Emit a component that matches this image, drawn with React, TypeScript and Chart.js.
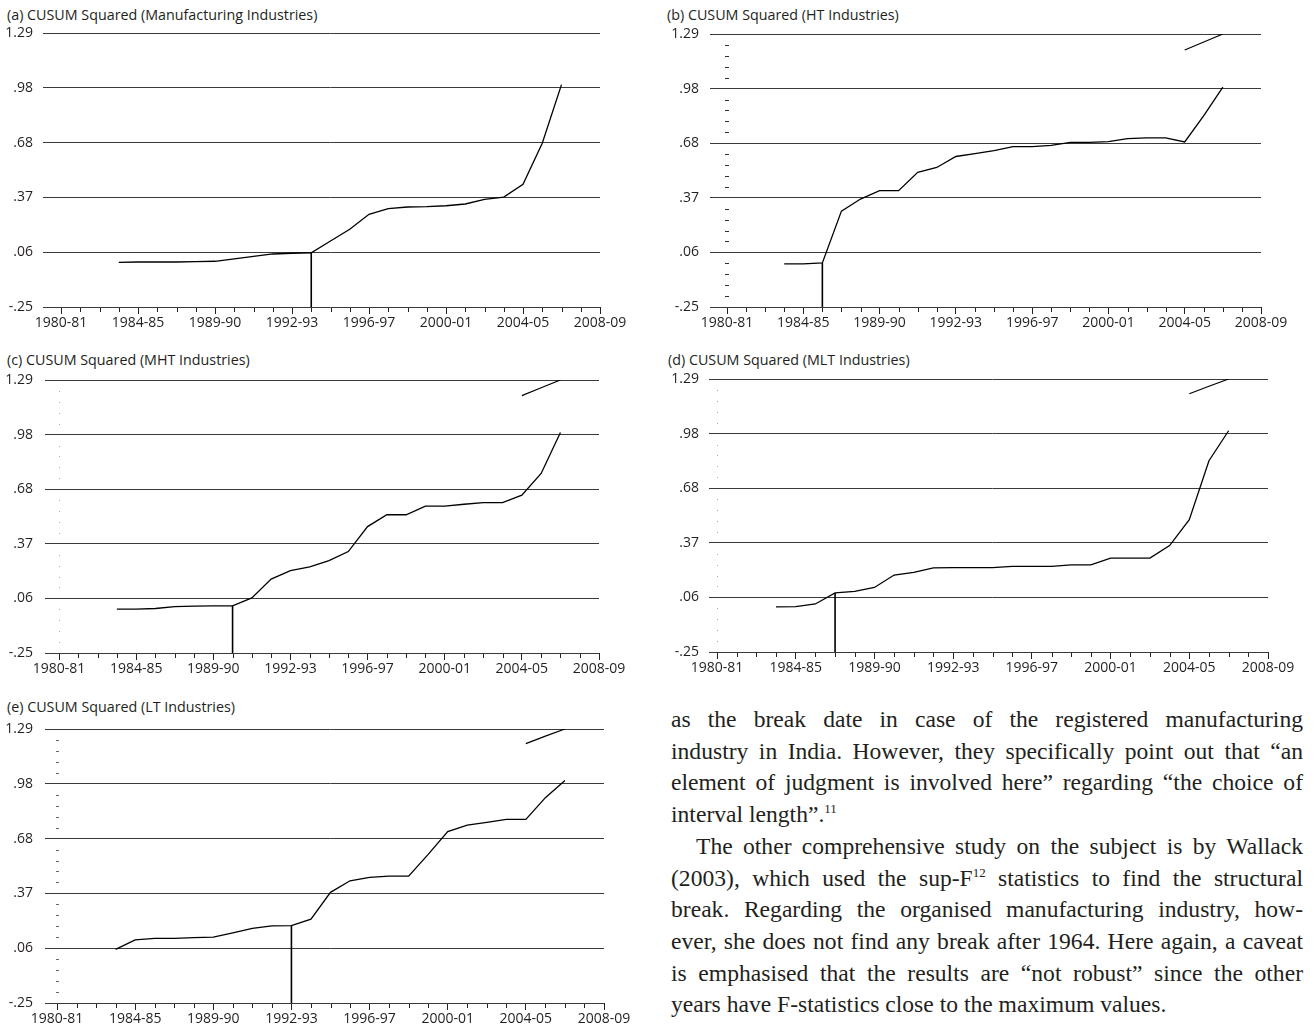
import React, { useEffect, useRef } from 'react';
import { Chart, registerables } from 'chart.js';

Chart.register(...registerables);

// ---------- data ----------
const years = [
  '1980-81', '1981-82', '1982-83', '1983-84', '1984-85', '1985-86', '1986-87', '1987-88',
  '1988-89', '1989-90', '1990-91', '1991-92', '1992-93', '1993-94', '1994-95', '1995-96',
  '1996-97', '1997-98', '1998-99', '1999-00', '2000-01', '2001-02', '2002-03', '2003-04',
  '2004-05', '2005-06', '2006-07', '2007-08', '2008-09',
];
const xTickLabels = ['1980-81', '1984-85', '1989-90', '1992-93', '1996-97', '2000-01', '2004-05', '2008-09'];
const xLabelEvery = 4;
const yTickValues = [-0.25, 0.058, 0.366, 0.674, 0.982, 1.29];
const yTickLabels = ['-.25', '.06', '.37', '.68', '.98', '1.29'];
const seriesStartYear = '1983-84';
const boundYears = ['2004-05', '2005-06', '2006-07'];

const manufacturingValues = [
  0.001, 0.003, 0.003, 0.003, 0.005, 0.007, 0.02, 0.034, 0.048, 0.052, 0.055, 0.121,
  0.187, 0.271, 0.303, 0.312, 0.314, 0.319, 0.329, 0.355, 0.368, 0.44, 0.67, 1.0,
];
const manufacturingBreak = '1993-94';
const manufacturingUpper: number[] = [];

const htValues = [
  -0.007, -0.007, -0.001, 0.291, 0.359, 0.406, 0.406, 0.51, 0.537, 0.599, 0.615, 0.632,
  0.655, 0.655, 0.662, 0.679, 0.679, 0.683, 0.7, 0.704, 0.704, 0.681, 0.829, 0.99,
];
const htBreak = '1985-86';
const htUpper = [1.2, 1.245, 1.29];

const mhtValues = [
  -0.002, -0.002, 0.001, 0.012, 0.014, 0.016, 0.016, 0.061, 0.167, 0.215, 0.236, 0.271,
  0.322, 0.463, 0.53, 0.53, 0.579, 0.579, 0.589, 0.598, 0.598, 0.64, 0.763, 0.994,
];
const mhtBreak = '1989-90';
const mhtUpper = [1.202, 1.246, 1.29];

const mltValues = [
  0.004, 0.006, 0.021, 0.083, 0.092, 0.114, 0.184, 0.199, 0.224, 0.226, 0.226, 0.226,
  0.233, 0.233, 0.233, 0.242, 0.242, 0.28, 0.28, 0.28, 0.35, 0.496, 0.829, 0.998,
];
const mltBreak = '1986-87';
const mltUpper = [1.207, 1.249, 1.29];

const ltValues = [
  0.051, 0.105, 0.113, 0.113, 0.117, 0.12, 0.144, 0.169, 0.183, 0.185, 0.221, 0.372,
  0.437, 0.456, 0.463, 0.463, 0.585, 0.713, 0.75, 0.765, 0.782, 0.782, 0.904, 1.0,
];
const ltBreak = '1992-93';
const ltUpper = [1.208, 1.25, 1.29];

// ---------- layout / styles ----------
const FONT = "'Open Sans', 'Noto Sans', sans-serif";
const TEXT_COLOR = '#231f20';
const Y_AXIS_W = 61;
const PAD_TOP = 14;
const PAD_RIGHT = 36;
const X_AXIS_H = 40;

type PanelCfg = {
  title: string;
  titleX: number;
  titleY: number;
  left: number;
  right: number;
  top: number;
  bottom: number;
  yTick: number;
  yPad: number;
  minor: 'none' | 'dash' | 'dot' | 'lightdash';
  values: number[];
  breakYear: string;
  upper: number[];
};

const panels: PanelCfg[] = [
  { title: '(a) CUSUM Squared (Manufacturing Industries)', titleX: 7, titleY: 5, left: 61, right: 600, top: 33, bottom: 307, yTick: 18, yPad: 10, minor: 'none', values: manufacturingValues, breakYear: manufacturingBreak, upper: manufacturingUpper },
  { title: '(b) CUSUM Squared (HT Industries)', titleX: 667, titleY: 5, left: 727, right: 1261, top: 34, bottom: 307, yTick: 17, yPad: 11, minor: 'dash', values: htValues, breakYear: htBreak, upper: htUpper },
  { title: '(c) CUSUM Squared (MHT Industries)', titleX: 7, titleY: 350, left: 59, right: 599, top: 380, bottom: 653, yTick: 14, yPad: 12, minor: 'dot', values: mhtValues, breakYear: mhtBreak, upper: mhtUpper },
  { title: '(d) CUSUM Squared (MLT Industries)', titleX: 668, titleY: 350, left: 717, right: 1268, top: 379, bottom: 652, yTick: 8, yPad: 10, minor: 'dot', values: mltValues, breakYear: mltBreak, upper: mltUpper },
  { title: '(e) CUSUM Squared (LT Industries)', titleX: 7, titleY: 697, left: 57, right: 604, top: 729, bottom: 1003, yTick: 12, yPad: 12, minor: 'lightdash', values: ltValues, breakYear: ltBreak, upper: ltUpper },
];

const minorTicksPlugin = {
  id: 'minorTicks',
  afterDraw(chart: any, _args: any, opts: any) {
    const { ctx } = chart;
    const xs = chart.scales.x;
    const ys = chart.scales.y;
    ctx.save();
    ctx.lineWidth = 1;
    ctx.strokeStyle = '#222';
    xs.ticks.forEach((t: any, i: number) => {
      if (i % xLabelEvery !== 0) {
        const px = Math.round(xs.getPixelForValue(t.value)) + 0.5;
        ctx.beginPath();
        ctx.moveTo(px, ys.bottom + 1);
        ctx.lineTo(px, ys.bottom + 5);
        ctx.stroke();
      }
    });
    if (opts.style !== 'none') {
      const vals = ys.ticks.map((t: any) => t.value);
      for (let k = 0; k < vals.length - 1; k++) {
        for (let m = 1; m < 5; m++) {
          const v = vals[k] + ((vals[k + 1] - vals[k]) * m) / 5;
          const py = Math.round(ys.getPixelForValue(v)) + 0.5;
          const x0 = xs.left;
          ctx.beginPath();
          if (opts.style === 'dash') {
            ctx.strokeStyle = '#333';
            ctx.moveTo(x0 - 2, py);
            ctx.lineTo(x0 + 2, py);
          } else if (opts.style === 'lightdash') {
            ctx.strokeStyle = '#666';
            ctx.moveTo(x0 - 1, py);
            ctx.lineTo(x0 + 2, py);
          } else {
            ctx.strokeStyle = '#aaa';
            ctx.moveTo(x0, py);
            ctx.lineTo(x0 + 1, py);
          }
          ctx.stroke();
        }
      }
    }
    ctx.restore();
  },
};

function Panel({ cfg }: { cfg: PanelCfg }) {
  const ref = useRef<HTMLCanvasElement | null>(null);
  const cLeft = cfg.left - Y_AXIS_W;
  const cTop = cfg.top - PAD_TOP;
  const cW = cfg.right - cfg.left + Y_AXIS_W + PAD_RIGHT;
  const cH = cfg.bottom - cfg.top + PAD_TOP + X_AXIS_H;

  useEffect(() => {
    if (!ref.current) return;
    const start = years.indexOf(seriesStartYear);
    const mainData = cfg.values.map((v, k) => ({ x: start + k, y: v }));
    const bi = years.indexOf(cfg.breakYear);
    const breakVal = cfg.values[bi - start];
    const breakData = [
      { x: bi, y: yTickValues[0] },
      { x: bi, y: breakVal },
    ];
    const upperData = cfg.upper.map((v, k) => ({ x: years.indexOf(boundYears[k]), y: v }));

    const line = { borderColor: '#000', pointRadius: 0, tension: 0, fill: false } as any;
    const chart = new Chart(ref.current, {
      type: 'line',
      data: {
        datasets: [
          { ...line, label: 'CUSUM of squares', data: mainData, borderWidth: 1.3 },
          { ...line, label: 'Break', data: breakData, borderWidth: 1.6 },
          { ...line, label: '5% significance', data: upperData, borderWidth: 1.2 },
        ],
      },
      options: {
        animation: false,
        responsive: false,
        maintainAspectRatio: false,
        layout: { padding: { top: PAD_TOP, right: PAD_RIGHT, left: 0, bottom: 0 } },
        plugins: {
          legend: { display: false },
          tooltip: { enabled: false },
          minorTicks: { style: cfg.minor },
        } as any,
        scales: {
          x: {
            type: 'linear',
            min: 0,
            max: years.length - 1,
            afterBuildTicks: (s: any) => {
              s.ticks = years.map((_, i) => ({ value: i }));
            },
            afterFit: (s: any) => {
              s.height = X_AXIS_H;
              s.paddingLeft = 0;
              s.paddingRight = 0;
            },
            ticks: {
              autoSkip: false,
              maxRotation: 0,
              minRotation: 0,
              padding: 1,
              color: TEXT_COLOR,
              font: { family: FONT, size: 14 },
              callback: (_v: any, i: number) => (i % xLabelEvery === 0 ? xTickLabels[i / xLabelEvery] : ''),
            },
            grid: {
              drawOnChartArea: false,
              drawTicks: true,
              tickLength: 7,
              tickColor: (c: any) => (c.index % xLabelEvery === 0 ? '#222' : 'rgba(0,0,0,0)'),
            },
            border: { display: false },
          },
          y: {
            type: 'linear',
            min: yTickValues[0],
            max: yTickValues[yTickValues.length - 1],
            afterBuildTicks: (s: any) => {
              s.ticks = yTickValues.map((v) => ({ value: v }));
            },
            afterFit: (s: any) => {
              s.width = Y_AXIS_W;
              s.paddingTop = 0;
              s.paddingBottom = 0;
            },
            ticks: {
              padding: cfg.yPad,
              color: TEXT_COLOR,
              font: { family: FONT, size: 14 },
              callback: (_v: any, i: number) => yTickLabels[i],
            },
            grid: {
              color: '#3a3a3a',
              lineWidth: 1,
              drawTicks: true,
              tickLength: cfg.yTick,
              tickColor: '#3a3a3a',
            },
            border: { display: false },
          },
        },
      },
      plugins: [minorTicksPlugin],
    } as any);
    return () => chart.destroy();
  }, [cfg]);

  return (
    <>
      <div
        style={{
          position: 'absolute',
          left: cfg.titleX,
          top: cfg.titleY,
          font: `14.3px ${FONT}`,
          lineHeight: '20px',
          color: TEXT_COLOR,
          whiteSpace: 'nowrap',
        }}
      >
        {cfg.title}
      </div>
      <canvas
        ref={ref}
        width={cW}
        height={cH}
        style={{ position: 'absolute', left: cLeft, top: cTop, width: cW, height: cH }}
      />
    </>
  );
}

const supStyle: React.CSSProperties = { fontSize: '0.55em', verticalAlign: '0.7em', lineHeight: 0 };

const textLines: { text: React.ReactNode; justify: boolean; indent?: boolean }[] = [
  { text: 'as the break date in case of the registered manufacturing', justify: true },
  { text: 'industry in India. However, they specifically point out that \u201can', justify: true },
  { text: 'element of judgment is involved here\u201d regarding \u201cthe choice of', justify: true },
  { text: <>{'interval length\u201d.'}<sup style={supStyle}>11</sup></>, justify: false },
  { text: 'The other comprehensive study on the subject is by Wallack', justify: true, indent: true },
  { text: <>{'(2003), which used the sup-F'}<sup style={supStyle}>12</sup>{' statistics to find the structural'}</>, justify: true },
  { text: 'break. Regarding the organised manufacturing industry, how-', justify: true },
  { text: 'ever, she does not find any break after 1964. Here again, a caveat', justify: true },
  { text: 'is emphasised that the results are \u201cnot robust\u201d since the other', justify: true },
  { text: 'years have F-statistics close to the maximum values.', justify: false },
];

export default function App() {
  return (
    <div
      style={{
        position: 'absolute',
        left: 0,
        top: 0,
        width: 1313,
        height: 1026,
        background: '#fff',
        overflow: 'hidden',
      }}
    >
      {panels.map((p) => (
        <Panel key={p.title} cfg={p} />
      ))}
      <div
        style={{
          position: 'absolute',
          left: 671,
          top: 704,
          width: 632,
          fontFamily: "'Liberation Serif', 'Times New Roman', serif",
          fontSize: 23.6,
          lineHeight: '31.7px',
          color: TEXT_COLOR,
        }}
      >
        {textLines.map((l, i) => (
          <div
            key={i}
            style={{
              textAlign: l.justify ? 'justify' : 'left',
              textAlignLast: l.justify ? 'justify' : 'left',
              textIndent: l.indent ? 25 : 0,
              whiteSpace: 'nowrap',
            }}
          >
            {l.text}
          </div>
        ))}
      </div>
    </div>
  );
}
